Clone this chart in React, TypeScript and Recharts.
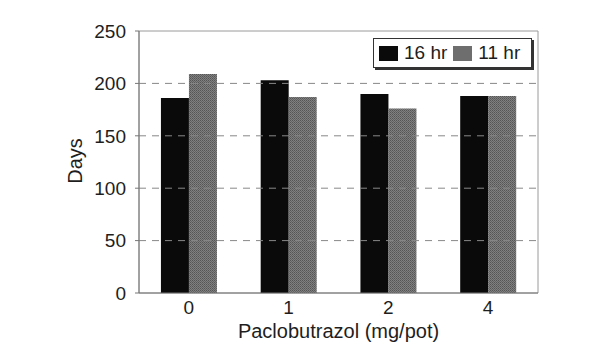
import { BarChart, Bar, XAxis, YAxis, ReferenceLine, ReferenceArea } from 'recharts';

const doses = ['0', '1', '2', '4'];
const days16hr = [186, 203, 190, 188];
const days11hr = [209, 187, 176, 188];
const yTicks = [0, 50, 100, 150, 200, 250];
const gridValues = [50, 100, 150, 200];

const data = doses.map((dose, i) => ({
  dose,
  hr16: days16hr[i],
  hr11: days11hr[i],
}));

const font = '"Liberation Sans", Arial, sans-serif';
const ink = '#1e1e1e';

// legend sits on top of the plot as plain html so it takes no room from the chart
function ChartLegend() {
  const swatch = (fill: string) => (
    <span
      style={{
        display: 'inline-block',
        width: 19,
        height: 15,
        background: fill,
        marginRight: 6,
      }}
    />
  );
  return (
    <div
      style={{
        position: 'absolute',
        left: 373,
        top: 38,
        width: 152,
        height: 28,
        border: '1px solid #333',
        boxShadow: '2px 2px 0 #333',
        background: '#fff',
        fontFamily: font,
        fontSize: 19,
        color: ink,
        display: 'flex',
        alignItems: 'center',
        paddingLeft: 5,
      }}
    >
      {swatch('#0a0a0a')}
      <span style={{ marginRight: 6 }}>16 hr</span>
      {swatch('#6e6e6e')}
      <span>11 hr</span>
    </div>
  );
}

export default function App() {
  return (
    <div style={{ position: 'absolute', left: 0, top: 0, width: 600, height: 349, background: '#fff' }}>
      <BarChart
        width={600}
        height={349}
        data={data}
        margin={{ top: 31, right: 62, bottom: 26, left: 0 }}
        barCategoryGap="22%"
        barGap={0}
      >
        <defs>
          <pattern id="stipple" width="2" height="2" patternUnits="userSpaceOnUse">
            <rect width="2" height="2" fill="#808080" />
            <rect width="1" height="1" fill="#555" />
            <rect x="1" y="1" width="1" height="1" fill="#636363" />
          </pattern>
        </defs>
        <ReferenceArea y1={0} y2={250} fill="none" stroke="#9a9a9a" strokeWidth={1} />
        {gridValues.map((v) => (
          <ReferenceLine key={v} y={v} stroke="#888" strokeDasharray="7 6" />
        ))}
        <XAxis
          dataKey="dose"
          height={30}
          tickLine={false}
          axisLine={{ stroke: '#777' }}
          tick={{ fontSize: 19, fill: ink, fontFamily: font }}
          tickMargin={2}
          label={{
            value: 'Paclobutrazol (mg/pot)',
            position: 'insideBottom',
            offset: -15,
            fontSize: 20,
            fill: ink,
            fontFamily: font,
          }}
        />
        <YAxis
          width={139}
          domain={[0, 250]}
          ticks={yTicks}
          interval={0}
          tickSize={4}
          tickMargin={9}
          axisLine={{ stroke: '#777' }}
          tickLine={{ stroke: '#777' }}
          tick={{ fontSize: 19, fill: ink, fontFamily: font }}
          label={{
            content: () => (
              <text
                x={75}
                y={161}
                transform="rotate(-90 75 161)"
                textAnchor="middle"
                dominantBaseline="central"
                fontSize={20}
                fill={ink}
                fontFamily={font}
              >
                Days
              </text>
            ),
          }}
        />
        <Bar dataKey="hr16" name="16 hr" fill="#0a0a0a" isAnimationActive={false} />
        <Bar dataKey="hr11" name="11 hr" fill="url(#stipple)" isAnimationActive={false} />
      </BarChart>
      <ChartLegend />
    </div>
  );
}
